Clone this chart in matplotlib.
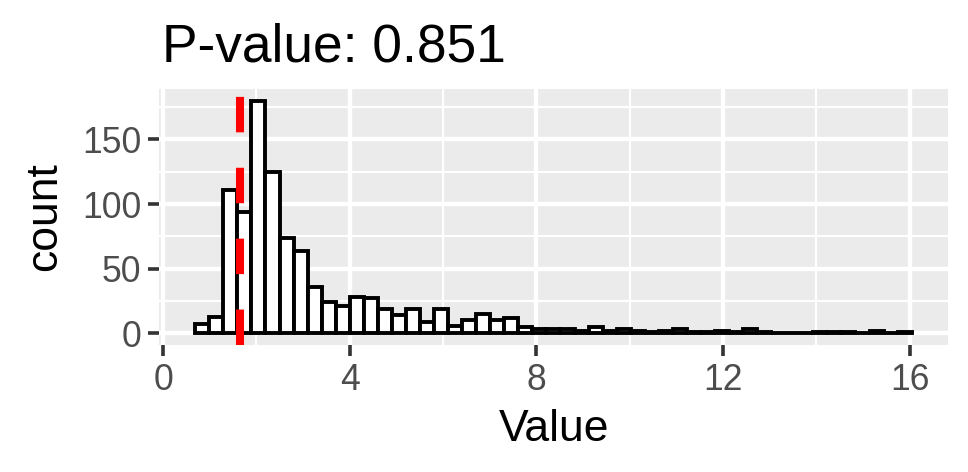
import numpy as np
import matplotlib
matplotlib.use("Agg")
import matplotlib.pyplot as plt

plt.rcParams['font.family'] = ['Liberation Sans', 'DejaVu Sans']

# histogram counts (bins of width ~0.3 starting at 0.69)
bin_start = 0.69
bin_width = 0.301
counts = [7, 13, 111, 94, 180, 125, 74, 64, 36, 24, 21, 28, 27, 19, 14, 19, 9,
          19, 6, 10, 15, 10, 12, 5, 3, 3, 3, 2, 5, 2, 3, 2, 1, 2, 3, 1, 1, 2,
          1, 3, 1, 0, 0, 0, 1, 1, 1, 0, 2, 0, 1]
observed = 1.65
p_value = 0.851

left_edges = bin_start + bin_width * np.arange(len(counts))

fig = plt.figure(figsize=(4.84, 2.36), dpi=200)
ax = fig.add_axes([159.3 / 968, 1 - 345 / 472, (948 - 159.3) / 968, (345 - 89) / 472])
ax.set_facecolor('#EBEBEB')

# grid like ggplot theme_grey
for x in [2, 6, 10, 14]:
    ax.axvline(x, color='white', lw=0.78, zorder=0)
for y in [25, 75, 125, 175]:
    ax.axhline(y, color='white', lw=0.78, zorder=0)
for x in [0, 4, 8, 12, 16]:
    ax.axvline(x, color='white', lw=1.55, zorder=0)
for y in [0, 50, 100, 150]:
    ax.axhline(y, color='white', lw=1.55, zorder=0)

ax.bar(left_edges, counts, width=bin_width, align='edge', color='white',
       edgecolor='black', linewidth=1.4, zorder=2)
ax.axvline(observed, color='red', lw=2.9, linestyle=(0, (4.4, 4.4)), zorder=3)

ax.set_xlim(-0.08, 16.82)
ax.set_ylim(-9, 189)
ax.set_xticks([0, 4, 8, 12, 16])
ax.set_yticks([0, 50, 100, 150])
ax.tick_params(axis='both', colors='#333333', width=1.3, length=3.9,
               labelsize=12.8, labelcolor='#4D4D4D', pad=2.5)
for s in ax.spines.values():
    s.set_visible(False)

ax.set_xlabel('Value', fontsize=16, labelpad=4)
ax.set_ylabel('count', fontsize=16, labelpad=6)
ax.set_title('P-value: %.3f' % p_value, fontsize=19.2, loc='left', pad=10, x=0.004)

fig.savefig('out.png', dpi=200)
